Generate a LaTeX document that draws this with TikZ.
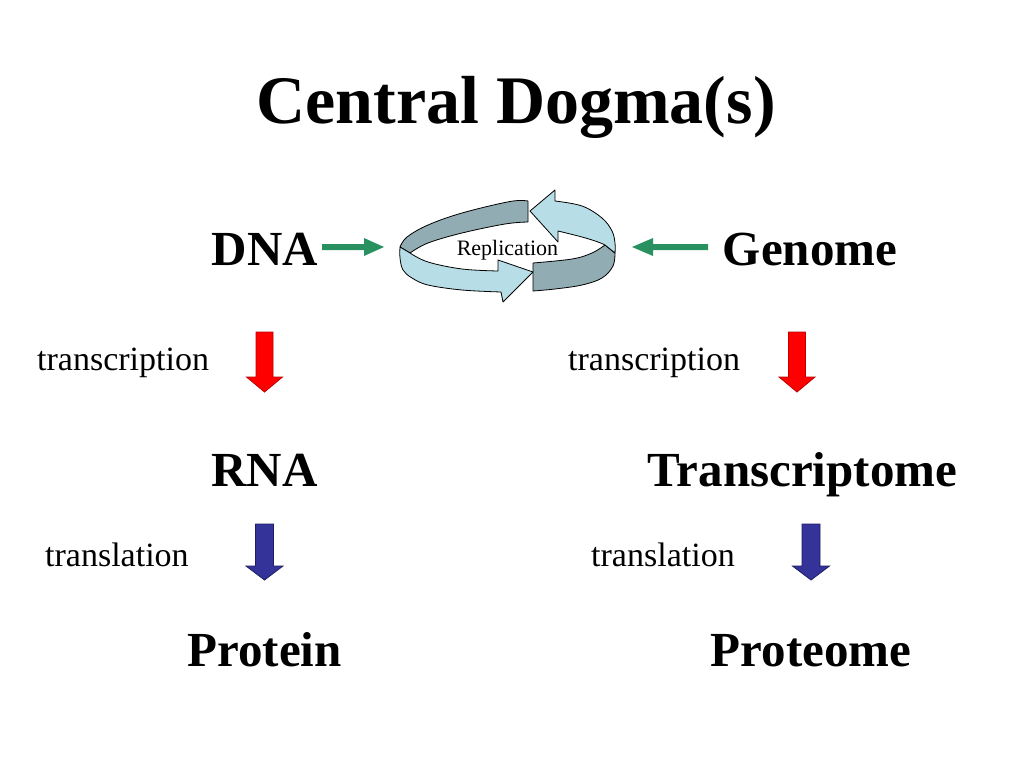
\documentclass[tikz,border=0pt]{standalone}
\usepackage{fontspec}
\setmainfont{Liberation Serif}
\definecolor{ringlight}{RGB}{183,222,230}
\definecolor{ringdark}{RGB}{145,172,178}
\definecolor{arrowgreen}{RGB}{40,145,95}
\definecolor{arrowred}{RGB}{255,0,0}
\definecolor{arrowredline}{RGB}{190,0,0}
\definecolor{arrowblue}{RGB}{51,51,153}
\definecolor{arrowblueline}{RGB}{30,30,100}
\tikzset{
  titletext/.style={inner sep=0pt, anchor=base, font=\fontsize{68}{80}\selectfont\bfseries},
  bigtext/.style={inner sep=0pt, anchor=base, font=\fontsize{49}{58}\selectfont\bfseries},
  smalltext/.style={inner sep=0pt, anchor=base west, font=\fontsize{34}{40}\selectfont},
  reptext/.style={inner sep=0pt, anchor=base, font=\fontsize{22}{26}\selectfont},
  ringl/.style={fill=ringlight, draw=black, line width=0.8pt, line join=round},
  ringd/.style={fill=ringdark, draw=black, line width=0.8pt, line join=round},
  greenarrow/.style={fill=arrowgreen, draw=none},
  redarrow/.style={fill=arrowred, draw=arrowredline, line width=0.8pt},
  bluearrow/.style={fill=arrowblue, draw=arrowblueline, line width=0.8pt},
}
\begin{document}
\begin{tikzpicture}[x=1pt,y=-1pt]
\useasboundingbox[fill=white] (0,0) rectangle (1024,768);

% texts
\node[titletext] (title) at (516,123) {Central Dogma(s)};
\node[bigtext] (dna) at (265,265) {DNA};
\node[bigtext] (genome) at (810,265) {Genome};
\node[bigtext] (rna) at (264.5,486) {RNA};
\node[bigtext] (transcriptome) at (802.5,486) {Transcriptome};
\node[bigtext] (protein) at (264.5,666) {Protein};
\node[bigtext] (proteome) at (811,666) {Proteome};
\node[smalltext] (tl) at (37,370) {transcription};
\node[smalltext] (tr) at (568,370) {transcription};
\node[smalltext] (sl) at (45,566) {translation};
\node[smalltext] (sr) at (591,566) {translation};

% replication ring
\filldraw[ringd] (528,201) -- plot[smooth, tension=0.6] coordinates {(528,201) (510,201.5) (462,213) (428,225) (407,237) (400,247)} -- (410,253) -- plot[smooth, tension=0.6] coordinates {(410,253) (428,243) (462,233) (505,224) (528,222)} -- cycle;
\filldraw[ringd] (533,263) -- plot[smooth, tension=0.6] coordinates {(533,263) (572,259) (592,253) (605,245)} -- (615,253) -- plot[smooth, tension=0.6] coordinates {(615,253) (613,266) (602,278) (582,285) (555,289) (533,291)} -- cycle;
\filldraw[ringl] (410,253) -- plot[smooth, tension=0.6] coordinates {(410,253) (428,262) (462,269) (498,271)} -- (498,260) -- (533,272) -- (503,302) -- (501,292) -- plot[smooth, tension=0.6] coordinates {(501,292) (462,290) (428,285) (412,278) (403,270) (400,258) (400,247)} -- cycle;
\filldraw[ringl] (530,211) -- (555,190) -- (555,201) -- plot[smooth, tension=0.6] coordinates {(555,201) (582,206) (602,218) (612,231) (615,243) (615,253)} -- (605,245) -- plot[smooth, tension=0.6] coordinates {(605,245) (598,242) (582,237) (558,231)} -- (558,242) -- cycle;
\node[reptext] (rep) at (507.5,255) {Replication};

% green arrows
\fill[greenarrow] (322,244) -- (364,244) -- (364,238) -- (384,247) -- (364,256) -- (364,250) -- (322,250) -- cycle;
\fill[greenarrow] (708,244) -- (653,244) -- (653,238) -- (632,247) -- (653,256) -- (653,250) -- (708,250) -- cycle;

% red arrows
\filldraw[redarrow, shift={(264.5,0)}] (-8.5,332) -- (8.5,332) -- (8.5,377) -- (18,377) -- (0,392) -- (-18,377) -- (-8.5,377) -- cycle;
\filldraw[redarrow, shift={(797,0)}] (-8.5,332) -- (8.5,332) -- (8.5,377) -- (18,377) -- (0,392) -- (-18,377) -- (-8.5,377) -- cycle;

% blue arrows
\filldraw[bluearrow, shift={(264.5,0)}] (-9,524) -- (9,524) -- (9,566) -- (18.5,566) -- (0,580) -- (-18.5,566) -- (-9,566) -- cycle;
\filldraw[bluearrow, shift={(811,0)}] (-9,524) -- (9,524) -- (9,566) -- (18.5,566) -- (0,580) -- (-18.5,566) -- (-9,566) -- cycle;
\end{tikzpicture}
\end{document}
